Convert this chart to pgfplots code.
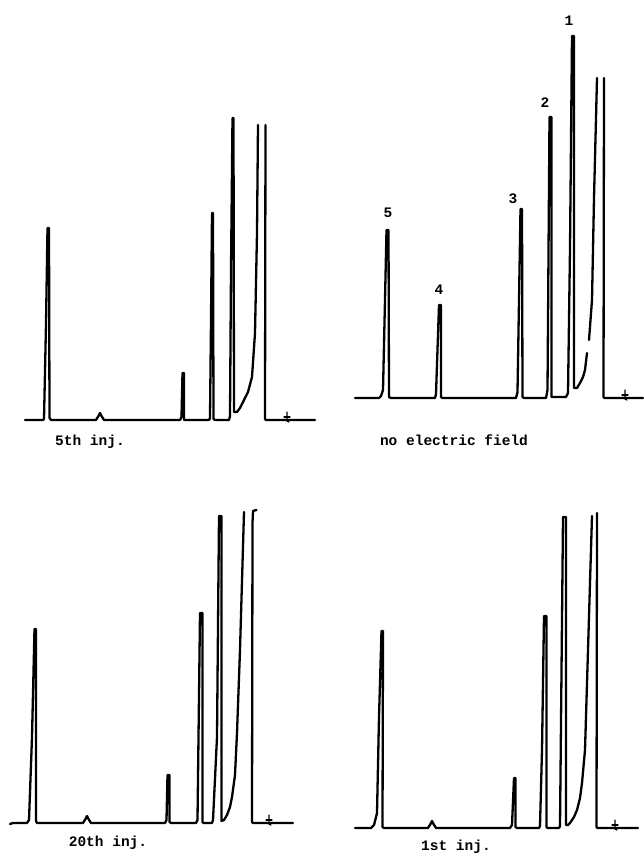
\documentclass[border=0pt]{standalone}
\usepackage{pgfplots}
\pgfplotsset{compat=1.18}
\usepackage{fontspec}
\newfontfamily\mono{Liberation Mono}

% x = position along the recorder paper, y = pen height above the baseline
\pgfplotsset{
  panel/.style={hide axis,x=1pt,y=1pt,anchor=south west,clip=false},
  trace/.style={black,line width=2.3pt,line join=round,line cap=round},
  tmark/.style={black,line width=1.3pt,line cap=round},
}
\tikzset{lbl/.style={font=\mono\bfseries\fontsize{14.5}{16}\selectfont,inner sep=0pt}}

\begin{document}
\begin{tikzpicture}
\path[use as bounding box] (0,0) rectangle (644pt,857pt);

% ---- 5th injection (top left)
\begin{axis}[panel,xmin=0,xmax=322,ymin=-40,ymax=310,at={(0pt,397pt)}]
\addplot[trace] coordinates {(25,0) (43,0) (44,1) (46,96) (47.5,192) (49,192) (49.5,2) (51,0)
  (96,0) (98.5,4) (100,7) (101.5,4) (104,0)
  (180,0) (181.5,3) (182.5,47) (184,47) (184,0)
  (209,0) (210,2) (211,100) (212,207) (213,207) (213.5,1) (215,0)
  (229,0) (230,4) (231,150) (232.5,302) (233.5,302) (234,8)
  (237,8) (240,12) (244,20) (248,28) (252,43) (255,87) (257,187) (258,295)};
\addplot[trace] coordinates {(265.5,295) (265,1) (266,0) (315,0)};
\addplot[tmark] coordinates {(287,8) (287,-1) (289,-2)};
\addplot[tmark] coordinates {(284,3) (290,3)};
\node[lbl] at (axis cs:90,-22) {5th inj.};
\end{axis}

% ---- no electric field (top right)
\begin{axis}[panel,xmin=322,xmax=644,ymin=-60,ymax=390,at={(322pt,399pt)}]
\addplot[trace] coordinates {(355,0) (379,0) (381,2) (383,8) (385,98) (386.5,168) (388.5,168) (389,1) (391,0)
  (435,0) (436,4) (439,93) (441,93) (441,1) (442.5,0)
  (516,0) (517.5,6) (520.5,189) (522,189) (522.5,1) (524,0)
  (546,0) (547.5,8) (549.5,281) (551.5,281) (551.5,1) (553,1) (566,1)
  (568,5) (570,150) (572,362) (574,362) (574,10)
  (577,10) (580,15) (583,21) (585,28) (587,45)};
\addplot[trace] coordinates {(589,58) (592,98) (594,200) (597,320)};
\addplot[trace] coordinates {(604,320) (603.5,1) (604.5,0) (643,0)};
\addplot[tmark] coordinates {(625,8) (625,-1) (627,-2)};
\addplot[tmark] coordinates {(622,3) (628,3)};
\node[lbl] at (axis cs:388,185) {5};
\node[lbl] at (axis cs:439,108) {4};
\node[lbl] at (axis cs:513,199) {3};
\node[lbl] at (axis cs:545,295) {2};
\node[lbl] at (axis cs:569,377) {1};
\node[lbl] at (axis cs:454,-42) {no electric field};
\end{axis}

% ---- 20th injection (bottom left)
\begin{axis}[panel,xmin=0,xmax=322,ymin=-34,ymax=330,at={(0pt,0pt)}]
\addplot[trace] coordinates {(10,-1) (13,0) (27,0) (29,3) (32,86) (34.5,194) (36,194) (36,2) (37,0)
  (83,0) (85.5,4) (87,7) (88.5,4) (91,0)
  (165,0) (166.5,3) (167.5,48) (169.5,48) (169.5,1) (171,0)
  (196,0) (197.5,3) (200,210) (202.5,210) (202.5,1) (203.5,0)
  (212,0) (213,3) (217,86) (219,307) (221.5,307) (221.5,2)
  (224,3) (227,8) (230,16) (232,26) (235,48) (237,90) (240,173) (244,311)};
\addplot[trace] coordinates {(256.5,313) (253,312) (252.5,300) (252,1) (253,0) (293,0)};
\addplot[tmark] coordinates {(269,8) (269,-1) (271,-2)};
\addplot[tmark] coordinates {(266,3) (272,3)};
\node[lbl] at (axis cs:108,-20) {20th inj.};
\end{axis}

% ---- 1st injection (bottom right)
\begin{axis}[panel,xmin=322,xmax=644,ymin=-29,ymax=330,at={(322pt,0pt)}]
\addplot[trace] coordinates {(355,0) (371,0) (374,3) (377,15) (379,111) (381.5,197) (383,197) (382.5,1) (384,0)
  (428,0) (430.5,4) (432,7) (433.5,4) (436,0)
  (510,0) (512,3) (514,50) (515.5,50) (515.5,1) (517,0)
  (539,0) (540,2) (542,78) (544,212) (546.5,212) (546.5,1) (547.5,0)
  (559,0) (560,2) (563,311) (566,311) (566,3)
  (568,3) (570,5) (574,11) (577,18) (580,30) (582,45) (585,78) (588,178) (592,312)};
\addplot[trace] coordinates {(597,315) (596.5,1) (597.5,0) (638,0)};
\addplot[tmark] coordinates {(615,8) (615,-1) (617,-2)};
\addplot[tmark] coordinates {(612,3) (618,3)};
\node[lbl] at (axis cs:456,-19) {1st inj.};
\end{axis}
\end{tikzpicture}
\end{document}
